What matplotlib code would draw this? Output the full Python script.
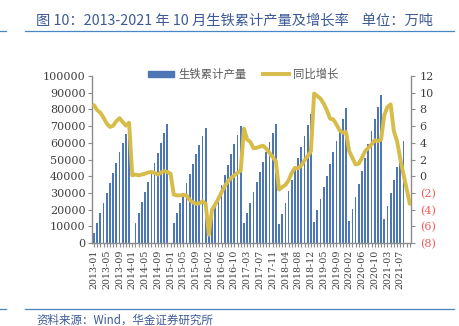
import numpy as np
import matplotlib
matplotlib.use('Agg')
import matplotlib.pyplot as plt
from matplotlib.lines import Line2D
from matplotlib.patches import Patch

plt.rcParams['font.family'] = ['Noto Sans CJK SC', 'DejaVu Sans']

# categories: 2013-2015 monthly from Jan, from 2016 Jan is merged into Feb
year_months = [
    (2013, list(range(1, 13))),
    (2014, list(range(1, 13))),
    (2015, list(range(1, 13))),
    (2016, list(range(2, 13))),
    (2017, list(range(2, 13))),
    (2018, list(range(2, 13))),
    (2019, list(range(2, 13))),
    (2020, list(range(2, 13))),
    (2021, list(range(2, 11))),
]
categories = [f'{y}-{m:02d}' for y, ms in year_months for m in ms]

# cumulative pig iron output (10k t)
output_2013 = [5800, 11800, 17800, 24200, 30200, 35700, 42200, 48200, 54200, 60100, 65400, 70900]
output_2014 = [None, 11900, 18100, 24300, 30400, 36300, 42200, 48200, 54100, 60000, 65600, 71200]
output_2015 = [None, 12000, 17900, 23900, 29800, 35700, 41500, 47300, 53100, 58700, 64000, 69100]
output_2016 = [10700, 16900, 22800, 28800, 34900, 40500, 47000, 53400, 59200, 64700, 70100]
output_2017 = [11700, 17900, 24200, 30400, 36500, 42500, 48700, 54600, 60300, 65900, 71100]
output_2018 = [11300, 17400, 24100, 30900, 37600, 44300, 50900, 57600, 64300, 70900, 77100]
output_2019 = [12500, 19500, 26300, 33400, 40400, 47400, 54400, 61200, 67700, 74500, 80900]
output_2020 = [13200, 20200, 27800, 35500, 43200, 51100, 59000, 66900, 74400, 81700, 88800]
output_2021 = [14500, 22300, 30000, 37900, 45700, 53200, 60900, None, None]

# YoY growth (%)
growth_2013 = [8.5, 7.9, 7.6, 7.0, 6.3, 5.9, 6.05, 6.6, 6.95, 6.5, 6.05, 6.4]
growth_2014 = [0.1, 0.2, 0.1, 0.2, 0.3, 0.45, 0.5, 0.4, 0.2, 0.45, 0.6, 0.5]
growth_2015 = [0.3, -2.2, -2.3, -2.3, -2.25, -2.3, -2.85, -3.15, -3.3, -3.25, -3.0, -3.3]
growth_2016 = [-7.0, -4.0, -3.4, -2.7, -1.9, -1.2, -0.6, -0.2, 0.1, 0.4, 0.7]
growth_2017 = [5.7, 4.4, 4.1, 3.35, 3.4, 3.55, 3.65, 3.3, 2.8, 2.3, 1.8]
growth_2018 = [-1.6, -1.3, -1.05, -0.5, 0.4, 1.0, 0.95, 1.3, 1.9, 2.4, 3.0]
growth_2019 = [9.9, 9.6, 9.3, 8.7, 7.9, 6.9, 6.8, 6.2, 5.5, 5.2, 5.3]
growth_2020 = [3.0, 2.2, 1.4, 1.5, 2.2, 3.0, 3.4, 3.8, 4.3, 4.2, 4.4]
growth_2021 = [7.3, 8.3, 8.6, 5.4, 4.2, 2.1, 0.25, -1.5, -3.3]

output = np.array(output_2013 + output_2014 + output_2015 + output_2016 + output_2017
                  + output_2018 + output_2019 + output_2020 + output_2021, dtype=float)
growth = np.array(growth_2013 + growth_2014 + growth_2015 + growth_2016 + growth_2017
                  + growth_2018 + growth_2019 + growth_2020 + growth_2021, dtype=float)

title = '图 10：2013-2021 年 10 月生铁累计产量及增长率    单位：万吨'
source = '资料来源：Wind，华金证券研究所'

bar_color = '#4C76B5'
line_color = '#D7BC4A'
title_color = '#3C5A96'
rule_color = '#4A86C5'
axis_color = '#8C8C8C'
text_color = '#404040'
neg_color = '#F05A5A'

W, H = 459, 326
fig = plt.figure(figsize=(W / 100, H / 100), dpi=100)
ax = fig.add_axes([92.4 / W, 1 - 243 / H, (411.4 - 92.4) / W, (243 - 76) / H])

x = np.arange(len(categories))
ax.bar(x, output, width=0.55, color=bar_color, zorder=2)
ax.set_xlim(-0.5, len(categories) - 0.5)
ax.set_ylim(0, 100000)
yt = np.arange(0, 100001, 10000)
ax.set_yticks(yt)
ax.set_yticklabels([str(v) for v in yt], fontfamily='DejaVu Serif', fontsize=8, color=text_color)
ax.set_xticks(x)
ax.set_xticklabels([c if i % 4 == 0 else '' for i, c in enumerate(categories)],
                   rotation=90, fontfamily='DejaVu Serif', fontsize=6.8, color=text_color)
ax.tick_params(axis='both', direction='out', length=3, width=0.8, color=axis_color, pad=2)

ax2 = ax.twinx()
ax2.plot(x, growth, color=line_color, lw=2.8, solid_joinstyle='round', solid_capstyle='round', zorder=3)
ax2.set_ylim(-8, 12)
rt = np.arange(-8, 13, 2)
ax2.set_yticks(rt)
ax2.set_yticklabels([f'({abs(v)})' if v < 0 else str(v) for v in rt],
                    fontfamily='DejaVu Serif', fontsize=8)
for lbl, v in zip(ax2.get_yticklabels(), rt):
    lbl.set_color(neg_color if v < 0 else text_color)
ax2.tick_params(axis='y', direction='out', length=3, width=0.8, color=axis_color, pad=3)

for a in (ax, ax2):
    a.spines['top'].set_visible(False)
    for s in a.spines.values():
        s.set_color(axis_color)
        s.set_linewidth(1.0)
ax.spines['right'].set_visible(False)
ax2.spines['left'].set_visible(False)
ax2.spines['bottom'].set_visible(False)

handles = [Patch(color=bar_color), Line2D([], [], color=line_color, lw=2.8)]
fig.legend(handles, ['生铁累计产量', '同比增长'], loc='center', bbox_to_anchor=(0.53, 1 - 74 / H),
           ncol=2, frameon=False, fontsize=8.2, handlelength=2.3, handleheight=0.45,
           handletextpad=0.4, columnspacing=1.4, labelcolor='#595959')

# header / footer
fig.text(36 / W, 1 - 21 / H, title, fontsize=10.3, color=title_color, va='center', ha='left')
for yy in (31, 309):
    fig.add_artist(Line2D([0, 6 / W], [1 - yy / H] * 2, color=rule_color, lw=0.9))
    fig.add_artist(Line2D([25 / W, 454 / W], [1 - yy / H] * 2, color=rule_color, lw=0.9))
fig.text(36 / W, 1 - 320 / H, source, fontsize=8.3, color=title_color, va='center', ha='left')

fig.savefig('out.png', dpi=100)
